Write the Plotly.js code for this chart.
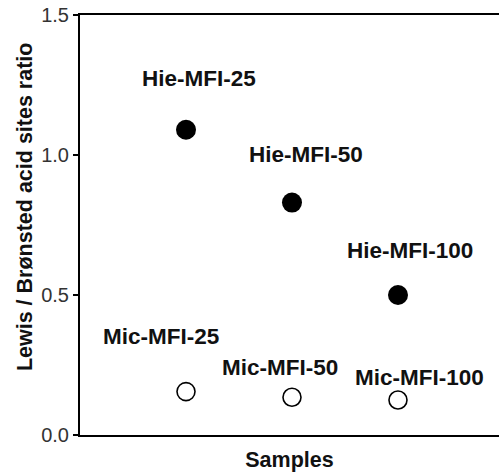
<!DOCTYPE html>
<html>
<head>
<meta charset="utf-8">
<script src="https://cdn.plot.ly/plotly-3.0.1.min.js"></script>
<style>html,body{margin:0;padding:0;background:#fff;}#chart{width:499px;height:475px;}</style>
</head>
<body>
<div id="chart"></div>
<script>
const positions = [1, 2, 3];
const hieLabels = ["Hie-MFI-25", "Hie-MFI-50", "Hie-MFI-100"];
const hieValues = [1.09, 0.83, 0.50];
const micLabels = ["Mic-MFI-25", "Mic-MFI-50", "Mic-MFI-100"];
const micValues = [0.155, 0.135, 0.125];
const yTickVals = [0, 0.5, 1.0, 1.5];
const yTickText = ["0.0", "0.5", "1.0", "1.5"];

const hieShift = [[13, 51], [14, 48], [12, 45]];
const micShift = [[-25, 55], [-12, 30], [22, 23]];

const font = "Liberation Sans, Arial, sans-serif";
const lblFont = {family: font, size: 22.5, color: '#111'};

const traces = [
  {x: positions, y: hieValues, type: 'scatter', mode: 'markers', name: 'Hie',
   marker: {size: 20, color: '#000', line: {width: 0}}, cliponaxis: false},
  {x: positions, y: micValues, type: 'scatter', mode: 'markers', name: 'Mic',
   marker: {size: 18, color: '#fff', line: {width: 1.6, color: '#000'}}, cliponaxis: false}
];

const annotations = [];
hieLabels.forEach((t, i) => annotations.push({x: positions[i], y: hieValues[i], xref: 'x', yref: 'y', text: '<b>' + t + '</b>', showarrow: false, xshift: hieShift[i][0], yshift: hieShift[i][1], font: lblFont}));
micLabels.forEach((t, i) => annotations.push({x: positions[i], y: micValues[i], xref: 'x', yref: 'y', text: '<b>' + t + '</b>', showarrow: false, xshift: micShift[i][0], yshift: micShift[i][1], font: lblFont}));
annotations.push({xref: 'paper', yref: 'paper', x: -0.131, y: 0.5, xanchor: 'center', yanchor: 'middle', textangle: -90,
  yshift: 18, text: '<b>Lewis / Brønsted acid sites ratio</b>', showarrow: false, font: {family: font, size: 21.5, color: '#111'}});

const layout = {
  width: 499, height: 475,
  margin: {l: 80, r: 0, t: 15, b: 40},
  paper_bgcolor: '#fff', plot_bgcolor: '#fff',
  showlegend: false,
  font: {family: font, color: '#222'},
  xaxis: {range: [0, 3.953], showgrid: false, zeroline: false, showline: true, linecolor: '#000', linewidth: 2,
    mirror: true, showticklabels: false, ticks: '',
    title: {text: '<b>Samples</b>', font: {family: font, size: 21.5, color: '#111'}, standoff: 16}},
  yaxis: {range: [0, 1.5], showgrid: false, zeroline: false, showline: true, linecolor: '#000', linewidth: 2,
    ticks: 'outside', ticklen: 5, tickwidth: 2, tickcolor: '#000', tickvals: yTickVals, ticktext: yTickText,
    tickfont: {family: font, size: 20, color: '#333'}},
  annotations: annotations
};

Plotly.newPlot('chart', traces, layout, {displayModeBar: false, staticPlot: true});
</script>
</body>
</html>
